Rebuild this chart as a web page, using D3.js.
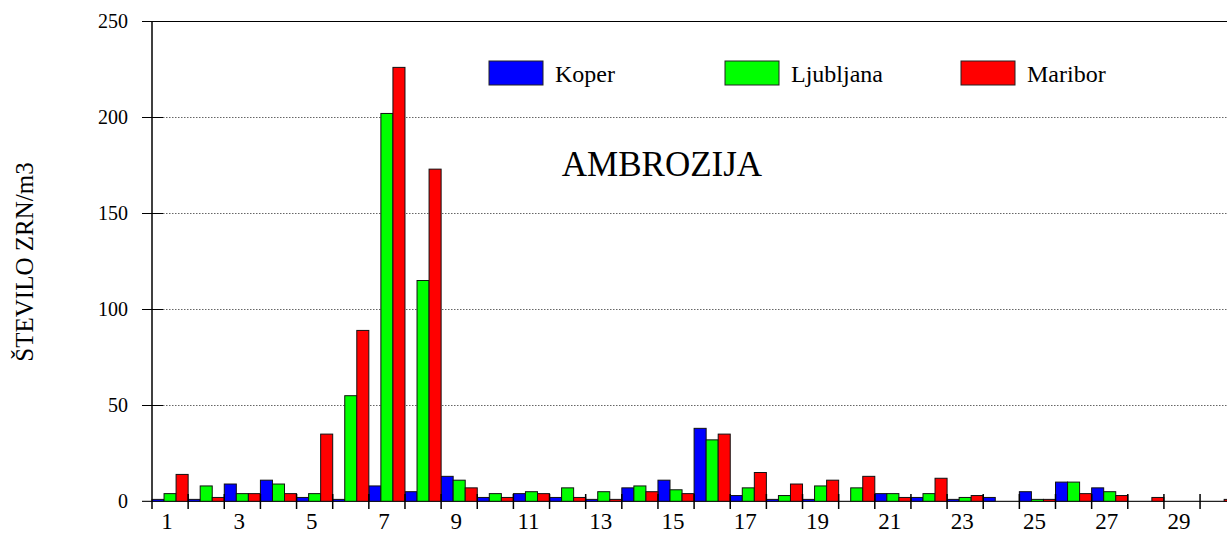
<!DOCTYPE html>
<html>
<head>
<meta charset="utf-8">
<script src="https://cdn.jsdelivr.net/npm/d3@7"></script>
<style>
  html, body { margin: 0; padding: 0; background: #fff; overflow: hidden; }
  svg text { font-family: "Liberation Serif", "Tinos", "DejaVu Serif", "Times New Roman", serif; }
</style>
</head>
<body>
<svg id="chart" width="1227" height="533"></svg>
<script>
const days = [1,2,3,4,5,6,7,8,9,10,11,12,13,14,15,16,17,18,19,20,21,22,23,24,25,26,27,28,29,30];
const koper     = [1,1,9,11,2,1,8,5,13,2,4,2,1,7,11,38,3,1,1,0,4,2,1,2,5,10,7,0,0,0];
const ljubljana = [4,8,4,9,4,55,202,115,11,4,5,7,5,8,6,32,7,3,8,7,4,4,2,0,1,10,5,0,0,0];
const maribor   = [14,2,4,4,35,89,226,173,7,2,4,2,1,5,4,35,15,9,11,13,2,12,3,0,1,4,3,2,0,1];
const seriesNames = ["Koper", "Ljubljana", "Maribor"];
const seriesColors = ["#0000ff", "#00ff00", "#ff0000"];
const yTicks = [0, 50, 100, 150, 200, 250];
const xLabels = [1,3,5,7,9,11,13,15,17,19,21,23,25,27,29];
const title = "AMBROZIJA";
const yTitle = "ŠTEVILO ZRN/m3";

const FONT = '"Liberation Serif", "Tinos", "DejaVu Serif", "Times New Roman", serif';
const seriesData = [koper, ljubljana, maribor];
const svg = d3.select("#chart");

const x0 = 152, catW = 36.14;
const x = d3.scaleBand().domain(days).range([x0, x0 + days.length * catW]).paddingInner(0).paddingOuter(0);
const xs = d3.scaleBand().domain(seriesNames).range([0, x.bandwidth()]).padding(0);
const y = d3.scaleLinear().domain([0, 250]).range([501.3, 21.3]);

// gridlines
const gridVals = yTicks.filter(v => v > 0 && v < 250);
svg.append("g").selectAll("line").data(gridVals).enter().append("line")
  .attr("x1", 163).attr("x2", 1227)
  .attr("y1", d => Math.round(y(d)) + 0.5).attr("y2", d => Math.round(y(d)) + 0.5)
  .attr("stroke", "#666").attr("stroke-width", 1).attr("stroke-dasharray", "1.5,1.5");
svg.append("g").selectAll("line").data(gridVals).enter().append("line")
  .attr("x1", 142).attr("x2", 163)
  .attr("y1", d => Math.round(y(d)) + 0.5).attr("y2", d => Math.round(y(d)) + 0.5)
  .attr("stroke", "#000").attr("stroke-width", 1);
svg.append("line").attr("x1", 142).attr("x2", 1227)
  .attr("y1", Math.round(y(250)) + 0.5).attr("y2", Math.round(y(250)) + 0.5)
  .attr("stroke", "#000").attr("stroke-width", 1);

// baseline
svg.append("line").attr("x1", 142).attr("x2", 1227)
  .attr("y1", y(0)).attr("y2", y(0))
  .attr("stroke", "#222").attr("stroke-width", 1.2);

// y tick labels
svg.append("g").selectAll("text").data(yTicks).enter().append("text")
  .attr("x", 128).attr("y", d => y(d) + 6.5)
  .attr("text-anchor", "end").attr("font-size", 20).attr("font-family", FONT).attr("fill", "#000")
  .text(d => d);

// bars
const groups = svg.append("g").selectAll("g").data(seriesNames).enter().append("g")
  .attr("fill", (d, i) => seriesColors[i]);
groups.selectAll("rect")
  .data((name, si) => days.map((day, i) => ({ day, name, v: seriesData[si][i] })).filter(d => d.v > 0))
  .enter().append("rect")
  .attr("x", d => x(d.day) + xs(d.name))
  .attr("width", xs.bandwidth())
  .attr("y", d => y(d.v))
  .attr("height", d => y(0) - y(d.v))
  .attr("stroke", "#111").attr("stroke-width", 1);

// x ticks at category boundaries
const bounds = days.map(d => x(d) + x.bandwidth());
svg.append("g").selectAll("line").data(bounds).enter().append("line")
  .attr("x1", d => d).attr("x2", d => d)
  .attr("y1", 494).attr("y2", 509)
  .attr("stroke", "#000").attr("stroke-width", 1.5);

// y axis line
svg.append("line").attr("x1", x0).attr("x2", x0).attr("y1", y(250)).attr("y2", 509)
  .attr("stroke", "#000").attr("stroke-width", 1.5);

// x labels
svg.append("g").selectAll("text").data(xLabels).enter().append("text")
  .attr("x", d => x(d) + x.bandwidth() / 2 - 3).attr("y", 529)
  .attr("text-anchor", "middle").attr("font-size", 23).attr("font-family", FONT).attr("fill", "#000")
  .text(d => d);

// y title
svg.append("text").attr("transform", "translate(33,262) rotate(-90)")
  .attr("text-anchor", "middle").attr("font-size", 25).attr("font-family", FONT).attr("fill", "#000")
  .text(yTitle);

// chart title
svg.append("text").attr("x", 662).attr("y", 176)
  .attr("text-anchor", "middle").attr("font-size", 35).attr("font-family", FONT).attr("fill", "#000")
  .text(title);

// legend
const legX = [489, 725, 961];
const leg = svg.append("g").selectAll("g").data(seriesNames).enter().append("g")
  .attr("transform", (d, i) => `translate(${legX[i]},61)`);
leg.append("rect").attr("width", 54).attr("height", 24)
  .attr("fill", (d, i) => seriesColors[i]).attr("stroke", "#222").attr("stroke-width", 1);
leg.append("text").attr("x", 66).attr("y", 20.5)
  .attr("font-size", 24).attr("font-family", FONT).attr("fill", "#000").text(d => d);
</script>
</body>
</html>
